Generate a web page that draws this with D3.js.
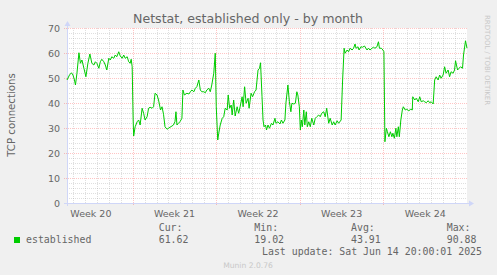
<!DOCTYPE html>
<html>
<head>
<meta charset="utf-8">
<script src="https://cdn.jsdelivr.net/npm/d3@7"></script>
<style>
  html, body { margin: 0; padding: 0; background: #f0f0f0; }
  svg { display: block; }
</style>
</head>
<body>
<script>
// Data (hours since the left edge of the graph, and TCP connections)
const start = Date.UTC(2025, 4, 12, 12)
const span = 804
const hours = [0, 5, 9, 12, 15, 17, 20, 24, 27, 30, 34, 38, 42, 46, 50, 54, 57, 60, 64, 67, 70, 74, 77, 80, 84, 87, 90, 94, 97, 100,
  104, 107, 111, 114, 117, 121, 124, 127, 129, 131, 133, 134, 137, 141, 144, 147, 151, 154, 157, 161, 164, 167, 171, 174, 177, 181, 184, 188, 191, 194,
  197, 201, 204, 207, 211, 214, 217, 219, 221, 224, 227, 231, 233, 236, 241, 245, 248, 251, 255, 258, 261, 265, 268, 271, 275, 278, 281, 285, 288, 291,
  295, 298, 300, 303, 305, 308, 312, 315, 318, 322, 324, 327, 330, 332, 335, 338, 342, 345, 348, 352, 354, 357, 360, 364, 366, 370, 373, 377, 380, 384,
  387, 389, 392, 394, 396, 399, 401, 404, 407, 411, 414, 418, 420, 424, 428, 431, 434, 438, 440, 444, 447, 450, 452, 456, 459, 462, 464, 467, 469, 471,
  473, 476, 478, 481, 483, 486, 489, 492, 496, 499, 502, 506, 509, 512, 516, 519, 522, 526, 529, 533, 536, 539, 543, 546, 551, 554, 557, 559, 563, 566,
  569, 573, 576, 579, 581, 585, 587, 591, 594, 598, 603, 606, 609, 613, 616, 619, 623, 626, 628, 632, 635, 637, 639, 642, 644, 647, 650, 653, 655, 658,
  661, 663, 666, 668, 671, 674, 676, 680, 683, 687, 691, 694, 695, 699, 702, 706, 709, 712, 716, 719, 722, 726, 729, 732, 736, 739, 742, 746, 749, 752,
  756, 759, 762, 766, 769, 772, 776, 779, 781, 785, 788, 791, 795, 797, 801, 804]
const values = [49.2, 51.2, 52.1, 51.2, 49.2, 47.2, 51.9, 60.1, 55.9, 57.2, 53.9, 50.5, 55.9, 59.6, 55.9, 55.2, 56.5, 55.9, 53.9, 56.5, 57.5, 56.5, 55.2, 53.2, 57.9, 57.2, 58.5, 57.9, 59.2, 58.5,
  60.5, 58.8, 57.9, 59.2, 57.9, 58.5, 56.5, 55.9, 57.5, 54.5, 33.2, 26.8, 30.5, 32.5, 33.2, 31.2, 37.9, 35.9, 33.2, 34.5, 37.9, 38.3, 37.9, 38.5, 43.9, 43.2, 41.2, 37.2, 38.5, 35.5,
  30.5, 29.5, 29.9, 30.3, 30.8, 31.2, 32.5, 36.5, 31.2, 31.9, 32.5, 33.9, 45.2, 43.2, 43.9, 43.6, 44.5, 45.2, 44.5, 45.9, 46.5, 49.2, 45.2, 44.5, 44.5, 44.1, 45.2, 45.9, 44.5, 47.2,
  51.9, 59.9, 38.5, 25.2, 27.9, 31.2, 33.9, 34.5, 37.9, 37.2, 43.2, 37.9, 39.2, 35.2, 41.2, 34.8, 38.5, 35.9, 38.5, 42.5, 38.5, 46.5, 39.9, 41.9, 37.9, 43.9, 42.5, 44.5, 45.2, 53.2,
  53.9, 56.1, 42.5, 33.2, 30.5, 31.2, 29.2, 31.2, 29.9, 31.9, 31.2, 33.9, 31.9, 32.5, 31.6, 33.2, 31.9, 33.2, 39.9, 47.2, 40.5, 36.5, 39.9, 39.6, 39.9, 44.5, 43.2, 38.5, 29.2, 33.2,
  30.5, 37.2, 31.2, 36.5, 30.5, 32.5, 30.5, 33.9, 31.2, 33.9, 34.5, 35.2, 34.5, 35.9, 36.5, 34.5, 37.9, 31.9, 33.9, 31.2, 32.5, 31.2, 32.9, 31.9, 33.2, 49.2, 61.9, 59.9, 61.2, 60.5,
  61.9, 61.2, 61.9, 63.6, 61.9, 62.5, 61.2, 62.5, 62.3, 62.8, 61.2, 61.9, 61.2, 61.9, 62.3, 61.9, 62.5, 64.5, 61.9, 61.9, 61.2, 60.5, 24.5, 29.9, 28.5, 26.5, 28.5, 26.5, 27.9, 25.9,
  29.9, 26.5, 30.5, 26.5, 33.2, 37.2, 38.5, 37.2, 37.5, 36.9, 37.5, 37.2, 42.5, 41.2, 41.9, 40.5, 42.5, 40.5, 40.9, 40.5, 40.1, 40.9, 40.1, 40.5, 39.6, 49.2, 50.5, 49.2, 51.2, 49.9,
  51.2, 54.5, 51.9, 53.2, 50.5, 52.5, 51.9, 53.2, 56.9, 53.2, 53.9, 54.5, 53.9, 59.2, 64.9, 61.9]
const weekStarts = ["2025-05-11", "2025-05-18", "2025-05-25", "2025-06-01", "2025-06-08"]
const weekLabels = ["Week 20", "Week 21", "Week 22", "Week 23", "Week 24"]
const yTicks = [0, 10, 20, 30, 40, 50, 60, 70]
const legendHeads = ["Cur:", "Min:", "Avg:", "Max:"]
const legendValues = ["61.62", "19.02", "43.91", "90.88"]

// Setup
const width = 497, height = 275
const plot = { left: 67, right: 467, top: 28, bottom: 203 }
const colors = { font: "#666666", axis: "#cfd6f8", line: "#00cc00", mgrid: "rgba(255,60,60,0.3)", grid: "rgba(150,150,150,0.3)" }
const sans = "'DejaVu Sans', sans-serif", mono = "'DejaVu Sans Mono', monospace"

const svg = d3.select("body").append("svg").attr("width", width).attr("height", height)
svg.append("rect").attr("width", width).attr("height", height).attr("fill", "#f0f0f0")
svg.append("rect").attr("x", plot.left).attr("y", plot.top).attr("width", plot.right - plot.left).attr("height", plot.bottom - plot.top).attr("fill", "#ffffff")

const x = d3.scaleUtc().domain([new Date(start), new Date(start + span * 3600e3)]).range([plot.left, plot.right])
const y = d3.scaleLinear().domain([0, 70]).range([plot.bottom, plot.top])
const px = (v) => Math.round(v) + 0.5

// Render grid
const grid = svg.append("g").attr("stroke-width", 1).attr("stroke-dasharray", "1,1").attr("fill", "none")
grid.selectAll("line.hminor").data(d3.range(2, 70, 2).filter((v) => v % 10)).join("line")
  .attr("x1", plot.left).attr("x2", plot.right).attr("y1", (d) => px(y(d))).attr("y2", (d) => px(y(d)))
  .attr("stroke", colors.grid)
grid.selectAll("line.vminor").data(d3.utcDay.range(x.domain()[0], new Date(+x.domain()[1] + 1)).filter((d) => d.getUTCDay() !== 0)).join("line")
  .attr("x1", (d) => px(x(d))).attr("x2", (d) => px(x(d))).attr("y1", plot.top).attr("y2", plot.bottom)
  .attr("stroke", colors.grid)
grid.selectAll("line.hmajor").data(yTicks.slice(1)).join("line")
  .attr("x1", plot.left - 3).attr("x2", plot.right).attr("y1", (d) => px(y(d))).attr("y2", (d) => px(y(d)))
  .attr("stroke", colors.mgrid)
grid.selectAll("line.vmajor").data(weekStarts.map((d) => new Date(d)).filter((d) => d >= x.domain()[0])).join("line")
  .attr("x1", (d) => px(x(d))).attr("x2", (d) => px(x(d))).attr("y1", plot.top).attr("y2", plot.bottom + 3)
  .attr("stroke", colors.mgrid)

// Render axes
const axes = svg.append("g").attr("stroke", colors.axis).attr("fill", colors.axis)
axes.append("line").attr("x1", px(plot.left)).attr("x2", px(plot.left)).attr("y1", plot.bottom + 3).attr("y2", plot.top - 5)
axes.append("line").attr("x1", plot.left - 3).attr("x2", plot.right + 5).attr("y1", px(plot.bottom)).attr("y2", px(plot.bottom))
axes.append("path").attr("stroke", "none").attr("d", `M${px(plot.left) - 3},${plot.top - 2}L${px(plot.left)},${plot.top - 7}L${px(plot.left) + 3},${plot.top - 2}Z`)
axes.append("path").attr("stroke", "none").attr("d", `M${plot.right + 2},${px(plot.bottom) - 3}L${plot.right + 7},${px(plot.bottom)}L${plot.right + 2},${px(plot.bottom) + 3}Z`)

// Render tick labels
svg.append("g").attr("font-family", sans).attr("font-size", "9.5px").attr("fill", colors.font).attr("text-anchor", "end")
  .selectAll("text").data(yTicks).join("text")
  .attr("x", plot.left - 7).attr("y", (d) => y(d) + 3.5).text((d) => d)
svg.append("g").attr("font-family", sans).attr("font-size", "9.5px").attr("fill", colors.font).attr("text-anchor", "middle")
  .selectAll("text").data(weekStarts).join("text")
  .attr("x", (d) => x(d3.utcHour.offset(new Date(d), 84))).attr("y", 216.5).text((_, i) => weekLabels[i])

// Render series
svg.append("path")
  .datum(hours.map((h, i) => [new Date(start + h * 3600e3), values[i]]))
  .attr("fill", "none").attr("stroke", colors.line).attr("stroke-width", 1).attr("stroke-linejoin", "round")
  .attr("d", d3.line().x((d) => x(d[0])).y((d) => y(d[1])))

// Render texts
svg.append("text").attr("x", 248).attr("y", 23).attr("text-anchor", "middle").attr("font-family", sans).attr("font-size", "12.6px").attr("fill", colors.font)
  .text("Netstat, established only - by month")
svg.append("text").attr("transform", "translate(15,115) rotate(-90)").attr("text-anchor", "middle").attr("font-family", sans).attr("font-size", "10.2px").attr("fill", colors.font)
  .text("TCP connections")
svg.append("text").attr("transform", "translate(485,15) rotate(90)").attr("font-family", sans).attr("font-size", "7px").attr("fill", "#c8c8c8")
  .text("RRDTOOL / TOBI OETIKER")
svg.append("text").attr("x", 248).attr("y", 268).attr("text-anchor", "middle").attr("font-family", sans).attr("font-size", "7.6px").attr("fill", "#c8c8c8")
  .text("Munin 2.0.76")

// Set legend
svg.append("rect").attr("x", 14).attr("y", 237).attr("width", 6).attr("height", 6).attr("fill", colors.line)
const legend = svg.append("g").attr("font-family", mono).attr("font-size", "9.9px").attr("fill", colors.font)
legend.append("text").attr("x", 26).attr("y", 243).text("established")
legendHeads.forEach((head, i) => {
  const lx = [158.7, 254.3, 351, 446.7][i]
  legend.append("text").attr("x", lx).attr("y", 231).text(head)
  legend.append("text").attr("x", lx).attr("y", 243).text(legendValues[i])
})
legend.append("text").attr("x", 482).attr("y", 255).attr("text-anchor", "end").text("Last update: Sat Jun 14 20:00:01 2025")
</script>
</body>
</html>
